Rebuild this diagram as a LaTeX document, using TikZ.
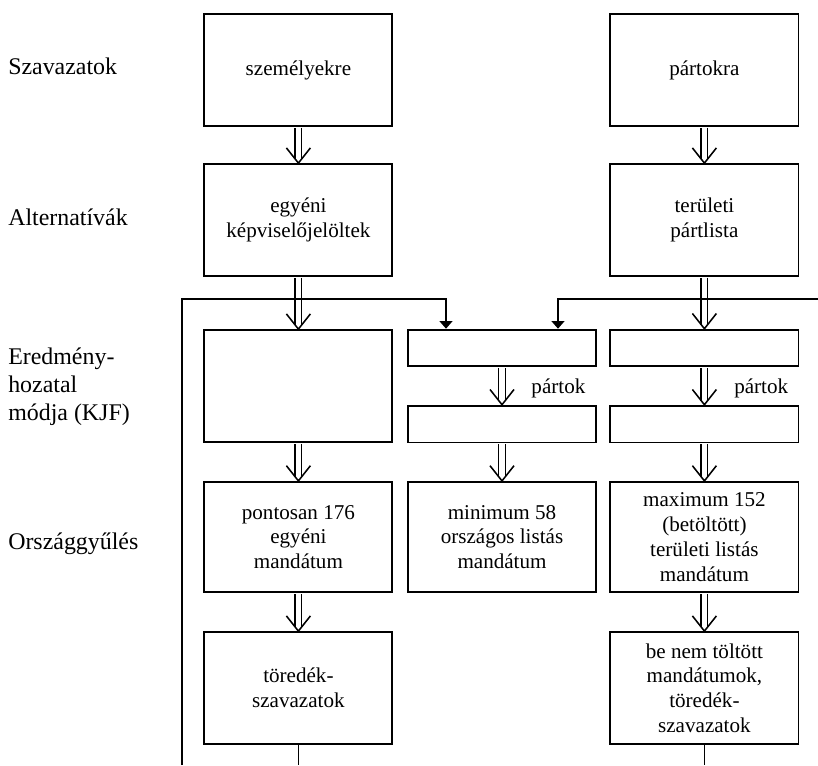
\documentclass[tikz,border=0pt]{standalone}
\usepackage{fontspec}
\setmainfont{Liberation Serif}
\usetikzlibrary{arrows.meta, positioning}

\newcommand{\boxfont}{\fontsize{15}{17.6}\selectfont}
\newcommand{\lblfont}{\fontsize{17}{19.9}\selectfont}
% double arrow with open head, from one box down to the next
\newcommand{\dblarrow}[2]{%
    \draw[shaft] ([yshift=-0.02cm]#1.south) -- ([yshift=0.1cm]#2.north);
    \draw[barb] ([shift={(-0.3,0.38)}]#2.north) -- (#2.north) -- ([shift={(0.3,0.38)}]#2.north);
}

\begin{document}
\begin{tikzpicture}[
    box/.style={draw, line width=1.3pt, minimum width=4.7cm, minimum height=2.8cm, align=center, font=\boxfont, inner sep=2pt},
    thinbox/.style={box, minimum height=0.92cm},
    rowlabel/.style={anchor=west, inner sep=0pt, align=left, font=\lblfont},
    lbl/.style={anchor=west, inner sep=0pt, font=\boxfont},
    shaft/.style={double, double distance=3.6pt, line width=1pt},
    barb/.style={line width=1.1pt, line join=miter},
    line/.style={line width=1.2pt},
    feed/.style={line, -{Triangle[length=0.19cm, width=0.32cm]}}
]
    \fill[white] (0,0) rectangle (20.45,-19.125);
    \useasboundingbox (0,0) rectangle (20.45,-19.125);

    % Row labels
    \node[rowlabel] (lszav) at (0.2,-1.65) {Szavazatok};
    \node[rowlabel] (lalt) at (0.2,-5.43) {Alternatívák};
    \node[rowlabel] (lered) at (0.2,-9.66) {Eredmény-\\hozatal\\módja (KJF)};
    \node[rowlabel] (lorsz) at (0.2,-13.6) {Országgyűlés};

    % Votes
    \node[box] (szem) at (7.46,-1.75) {személyekre};
    \node[box] (part) at (17.61,-1.75) {pártokra};

    % Alternatives
    \node[box] (egyen) at (7.46,-5.5) {egyéni\\képviselőjelöltek};
    \node[box] (terul) at (17.61,-5.5) {területi\\pártlista};

    % Decision rule
    \node[box] (kjf1) at (7.46,-9.65) {};
    \node[thinbox] (kjf2a) at (12.55,-8.7) {};
    \node[thinbox] (kjf2b) at (12.55,-10.6) {};
    \node[thinbox] (kjf3a) at (17.61,-8.7) {};
    \node[thinbox] (kjf3b) at (17.61,-10.6) {};
    \node[lbl] (pk2) at (13.28,-9.7) {pártok};
    \node[lbl] (pk3) at (18.35,-9.7) {pártok};

    % Parliament
    \node[box, minimum height=2.76cm] (mand1) at (7.46,-13.425) {pontosan 176\\egyéni\\mandátum};
    \node[box, minimum height=2.76cm] (mand2) at (12.55,-13.425) {minimum 58\\országos listás\\mandátum};
    \node[box, minimum height=2.76cm] (mand3) at (17.61,-13.425) {maximum 152\\(betöltött)\\területi listás\\mandátum};

    % Remainders
    \node[box] (tor1) at (7.46,-17.2) {töredék-\\szavazatok};
    \node[box] (tor3) at (17.61,-17.2) {be nem töltött\\mandátumok,\\töredék-\\szavazatok};

    % Connections
    \dblarrow{szem}{egyen}
    \dblarrow{part}{terul}
    \dblarrow{egyen}{kjf1}
    \dblarrow{terul}{kjf3a}
    \dblarrow{kjf2a}{kjf2b}
    \dblarrow{kjf3a}{kjf3b}
    \dblarrow{kjf1}{mand1}
    \dblarrow{kjf2b}{mand2}
    \dblarrow{kjf3b}{mand3}
    \dblarrow{mand1}{tor1}
    \dblarrow{mand3}{tor3}

    % Feedback of remainders
    \coordinate (botL) at (4.55,-19.125);
    \coordinate (cornL) at (4.55,-7.475);
    \coordinate (edgeR) at (20.45,-7.475);
    \draw[line] (tor1.south) -- (tor1.south |- botL);
    \draw[line] (tor3.south) -- (tor3.south |- botL);
    \draw[feed] (botL) -- (cornL) -| ([xshift=-1.4cm]kjf2a.north);
    \draw[feed] (edgeR) -| ([xshift=1.4cm]kjf2a.north);
\end{tikzpicture}
\end{document}
